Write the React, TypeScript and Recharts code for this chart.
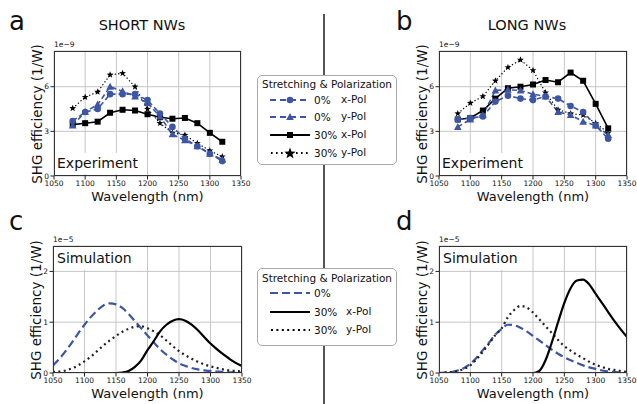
import React from 'react';
import { LineChart, Line, XAxis, YAxis, CartesianGrid } from 'recharts';

const BLUE = '#3c55a5';
const FONT = '"DejaVu Sans", Verdana, sans-serif';

// measured wavelengths (nm)
const expWl = [1080, 1100, 1120, 1140, 1160, 1180, 1200, 1220, 1240, 1260, 1280, 1300, 1320];
// SHORT NWs, units of 1e-9 1/W
const shortX0 = [3.7, 4.3, 4.5, 5.5, 5.5, 5.5, 5.1, 4.2, 3.3, 2.5, 2.0, 1.5, 1.0];
const shortY0 = [3.4, 4.3, 4.8, 6.0, 5.7, 5.35, 4.9, 4.0, 2.8, 2.4, 2.0, 1.5, 1.1];
const shortX30 = [3.45, 3.55, 3.65, 4.25, 4.45, 4.4, 4.15, 3.95, 3.85, 3.9, 3.55, 2.9, 2.3];
const shortY30 = [4.55, 5.3, 5.65, 6.8, 6.9, 6.0, 4.5, 3.55, 2.9, 2.75, 2.2, 1.7, 1.3];
// LONG NWs
const longX0 = [3.8, 3.9, 4.0, 5.0, 5.4, 5.2, 5.1, 5.35, 5.2, 4.7, 4.3, 3.4, 2.5];
const longY0 = [3.3, 3.8, 4.1, 5.75, 5.8, 5.75, 5.5, 5.35, 4.3, 4.1, 3.65, 3.4, 2.75];
const longX30 = [3.8, 3.9, 4.4, 5.2, 5.9, 6.0, 6.15, 6.45, 6.3, 6.95, 6.4, 4.85, 3.2];
const longY30 = [4.2, 4.9, 5.35, 6.4, 7.3, 7.8, 7.1, 5.6, 4.45, 4.2, 4.1, 3.55, 2.9];

// simulated wavelengths (nm)
const simWl = [1050, 1060, 1070, 1080, 1090, 1100, 1110, 1120, 1130, 1140, 1150, 1160, 1170, 1180, 1190, 1200,
  1210, 1220, 1230, 1240, 1250, 1260, 1270, 1280, 1290, 1300, 1310, 1320, 1330, 1340, 1350];
// SHORT NWs simulation, units of 1e-5 1/W
const simShort0 = [0.15, 0.28, 0.43, 0.6, 0.78, 0.95, 1.1, 1.23, 1.33, 1.37, 1.35, 1.28, 1.16, 1.02, 0.88, 0.74,
  0.6, 0.47, 0.36, 0.27, 0.19, 0.14, 0.1, 0.07, 0.05, 0.04, 0.03, 0.02, 0.015, 0.01, 0.01];
const simShortX30 = [0, 0, 0, 0, 0, 0, 0, 0, 0, 0, 0, 0.01, 0.04, 0.12, 0.25, 0.45,
  0.63, 0.82, 0.95, 1.03, 1.06, 1.03, 0.95, 0.84, 0.71, 0.58, 0.47, 0.37, 0.28, 0.2, 0.14];
const simShortY30 = [0.02, 0.03, 0.05, 0.09, 0.15, 0.23, 0.32, 0.43, 0.54, 0.64, 0.73, 0.81, 0.87, 0.91, 0.92, 0.88,
  0.82, 0.74, 0.64, 0.53, 0.43, 0.35, 0.28, 0.22, 0.17, 0.13, 0.1, 0.07, 0.05, 0.04, 0.03];
// LONG NWs simulation
const simLong0 = [0, 0.01, 0.02, 0.05, 0.1, 0.18, 0.3, 0.45, 0.6, 0.76, 0.87, 0.95, 0.94, 0.89, 0.82, 0.73,
  0.64, 0.55, 0.46, 0.38, 0.31, 0.25, 0.2, 0.15, 0.11, 0.08, 0.05, 0.03, 0.02, 0.01, 0.01];
const simLongX30 = [0, 0, 0, 0, 0, 0, 0, 0, 0, 0, 0, 0, 0, 0, 0, 0,
  0.04, 0.25, 0.6, 1.0, 1.38, 1.67, 1.82, 1.84, 1.74, 1.56, 1.38, 1.2, 1.02, 0.86, 0.71];
const simLongY30 = [0, 0.01, 0.02, 0.04, 0.08, 0.15, 0.27, 0.42, 0.58, 0.75, 0.88, 1.1, 1.24, 1.32, 1.29, 1.19,
  1.06, 0.92, 0.79, 0.65, 0.53, 0.44, 0.36, 0.29, 0.22, 0.16, 0.12, 0.08, 0.06, 0.04, 0.02];

const xTicks = [1050, 1100, 1150, 1200, 1250, 1300, 1350];
const expTicks = [0, 3, 6];
const simTicks = [0, 1, 2];

const toRows = (wl: number[], x0: number[], y0: number[], x30: number[], y30: number[]) =>
  wl.map((w, i) => ({ wl: w, x0: x0[i], y0: y0[i], x30: x30[i], y30: y30[i] }));

type Rect = { x: number; y: number; w: number; h: number };
const rA: Rect = { x: 54, y: 51, w: 187, h: 125 };
const rB: Rect = { x: 439, y: 51, w: 188, h: 125 };
const rC: Rect = { x: 53, y: 246, w: 189, h: 127 };
const rD: Rect = { x: 439, y: 246, w: 188, h: 127 };

const starPoints = (cx: number, cy: number, ro: number, ri: number) => {
  const pts: string[] = [];
  for (let k = 0; k < 10; k++) {
    const r = k % 2 ? ri : ro;
    const a = -Math.PI / 2 + (k * Math.PI) / 5;
    pts.push(`${cx + r * Math.cos(a)},${cy + r * Math.sin(a)}`);
  }
  return pts.join(' ');
};

const Circle = (p: any) => p.cx == null ? null : <circle key={p.index} cx={p.cx} cy={p.cy} r={3.3} fill={BLUE} />;
const Tri = (p: any) => p.cx == null ? null : (
  <polygon key={p.index} points={`${p.cx},${p.cy - 4} ${p.cx - 3.8},${p.cy + 3} ${p.cx + 3.8},${p.cy + 3}`} fill={BLUE} />
);
const Square = (p: any) => p.cx == null ? null : <rect key={p.index} x={p.cx - 3} y={p.cy - 3} width={6} height={6} fill="#000" />;
const Star = (p: any) => p.cx == null ? null : <polygon key={p.index} points={starPoints(p.cx, p.cy, 3.6, 1.5)} fill="#000" />;

function Panel({ rect, data, yMax, yTicks, exp }: { rect: Rect; data: any[]; yMax: number; yTicks: number[]; exp: boolean }) {
  const yw = 40, top = 10, xh = 30, right = 14;
  const tick = { fontSize: 7.5, fill: '#111', fontFamily: FONT };
  return (
    <>
      <div style={{ position: 'absolute', left: rect.x - yw, top: rect.y - top }}>
        <LineChart width={yw + rect.w + right} height={top + rect.h + xh} data={data}
          margin={{ top, right, left: 0, bottom: 0 }}>
          <CartesianGrid stroke="#c6c6c6" strokeWidth={1} />
          <XAxis dataKey="wl" type="number" domain={[1050, 1350]} ticks={xTicks} interval={0} height={xh}
            axisLine={false} tickLine={{ stroke: '#222' }} tickSize={3.5} tickMargin={1.5} tick={tick} allowDataOverflow />
          <YAxis type="number" domain={[0, yMax]} ticks={yTicks} interval={0} width={yw}
            axisLine={false} tickLine={{ stroke: '#222' }} tickSize={3.5} tickMargin={1.5} tick={tick} allowDataOverflow />
          {exp ? (
            <>
              <Line dataKey="x30" stroke="#000" strokeWidth={1.6} dot={Square} isAnimationActive={false} />
              <Line dataKey="y30" stroke="#000" strokeWidth={1.2} strokeDasharray="1.3 2.2" dot={Star} isAnimationActive={false} />
              <Line dataKey="y0" stroke={BLUE} strokeWidth={1.6} strokeDasharray="5 3" dot={Tri} isAnimationActive={false} />
              <Line dataKey="x0" stroke={BLUE} strokeWidth={1.6} strokeDasharray="5 3" dot={Circle} isAnimationActive={false} />
            </>
          ) : (
            <>
              <Line type="monotone" dataKey="y0" stroke={BLUE} strokeWidth={2.2} strokeDasharray="8 4" dot={false} isAnimationActive={false} />
              <Line type="monotone" dataKey="y30" stroke="#222" strokeWidth={2.2} strokeDasharray="2 3.4" dot={false} isAnimationActive={false} />
              <Line type="monotone" dataKey="x30" stroke="#000" strokeWidth={2.2} dot={false} isAnimationActive={false} />
            </>
          )}
        </LineChart>
      </div>
      <div style={{ position: 'absolute', left: rect.x, top: rect.y, width: rect.w, height: rect.h,
        border: '1px solid #333', boxSizing: 'border-box', pointerEvents: 'none' }} />
      <div style={{ position: 'absolute', left: rect.x + 1, top: exp ? rect.y + rect.h - 23 : rect.y + 1,
        background: '#fff', fontSize: 14, lineHeight: '21px', whiteSpace: 'nowrap',
        padding: exp ? '0 4px 0 2px' : '1px 4px 1px 3px' }}>
        {exp ? 'Experiment' : 'Simulation'}
      </div>
      <div style={{ position: 'absolute', left: rect.x, top: rect.y - 11, fontSize: 7.5, lineHeight: '9px', whiteSpace: 'nowrap' }}>
        {exp ? '1e\u22129' : '1e\u22125'}
      </div>
      <div style={{ position: 'absolute', left: rect.x - 17, top: rect.y + rect.h / 2, width: 170, textAlign: 'center',
        fontSize: 13.5, lineHeight: '16px', whiteSpace: 'nowrap', transform: 'translate(-50%, -50%) rotate(-90deg)' }}>
        SHG efficiency (1/W)
      </div>
      <div style={{ position: 'absolute', left: rect.x + rect.w / 2 - 80, top: rect.y + rect.h + 13, width: 160,
        textAlign: 'center', fontSize: 13, lineHeight: '16px', whiteSpace: 'nowrap' }}>
        Wavelength (nm)
      </div>
    </>
  );
}

function Sample({ kind }: { kind: string }) {
  return (
    <svg width={42} height={14} style={{ position: 'absolute', left: 269, top: -7 }}>
      {kind === 'x0' && <><line x1={1} y1={7} x2={41} y2={7} stroke={BLUE} strokeWidth={1.8} strokeDasharray="6 4" /><circle cx={21} cy={7} r={3.3} fill={BLUE} /></>}
      {kind === 'y0' && <><line x1={1} y1={7} x2={41} y2={7} stroke={BLUE} strokeWidth={1.8} strokeDasharray="6 4" /><polygon points="21,3 17.2,10 24.8,10" fill={BLUE} /></>}
      {kind === 'x30' && <><line x1={1} y1={7} x2={41} y2={7} stroke="#000" strokeWidth={1.8} /><rect x={18} y={4} width={6} height={6} fill="#000" /></>}
      {kind === 'y30' && <><line x1={2} y1={7} x2={41} y2={7} stroke="#000" strokeWidth={1.8} strokeDasharray="1.6 3.4" /><polygon points={starPoints(21, 7.5, 6, 2.5)} fill="#000" /></>}
      {kind === 's0' && <line x1={1} y1={7} x2={41} y2={7} stroke={BLUE} strokeWidth={2.2} strokeDasharray="8 4" />}
      {kind === 'sx30' && <line x1={1} y1={7} x2={41} y2={7} stroke="#000" strokeWidth={2.2} />}
      {kind === 'sy30' && <line x1={2} y1={7} x2={41} y2={7} stroke="#000" strokeWidth={2.2} strokeDasharray="2 3.4" />}
    </svg>
  );
}

const expLegend = [
  { kind: 'x0', pct: '0%', pol: 'x-Pol', y: 100 },
  { kind: 'y0', pct: '0%', pol: 'y-Pol', y: 117 },
  { kind: 'x30', pct: '30%', pol: 'x-Pol', y: 135 },
  { kind: 'y30', pct: '30%', pol: 'y-Pol', y: 153 },
];
const simLegend = [
  { kind: 's0', pct: '0%', pol: '', y: 293 },
  { kind: 'sx30', pct: '30%', pol: 'x-Pol', y: 312 },
  { kind: 'sy30', pct: '30%', pol: 'y-Pol', y: 330 },
];

function LegendBox({ top, height, titleY, rows, polX }: { top: number; height: number; titleY: number; rows: typeof expLegend; polX: number }) {
  return (
    <>
      <div style={{ position: 'absolute', left: 257, top, width: 140, height, border: '1px solid #aaa',
        borderRadius: 5, background: '#fff', boxSizing: 'border-box' }} />
      <div style={{ position: 'absolute', left: 257, top: titleY - 7, width: 140, textAlign: 'center', fontSize: 10.5,
        lineHeight: '14px', whiteSpace: 'nowrap' }}>
        Stretching &amp; Polarization
      </div>
      {rows.map((r) => (
        <div key={r.kind} style={{ position: 'absolute', left: 0, top: r.y, width: 0, height: 0 }}>
          <Sample kind={r.kind} />
          <div style={{ position: 'absolute', left: 314, top: -7, fontSize: 10.5, lineHeight: '14px', whiteSpace: 'nowrap' }}>{r.pct}</div>
          <div style={{ position: 'absolute', left: polX, top: -8, fontSize: 10.5, lineHeight: '14px', whiteSpace: 'nowrap' }}>{r.pol}</div>
        </div>
      ))}
    </>
  );
}

const label = (text: string, left: number, top: number) => (
  <div style={{ position: 'absolute', left, top, fontSize: 26, lineHeight: '30px' }}>{text}</div>
);

export default function App() {
  return (
    <div style={{ position: 'absolute', left: 0, top: 0, width: 637, height: 404, background: '#fff',
      fontFamily: FONT, color: '#111', overflow: 'hidden' }}>
      <div style={{ position: 'absolute', left: 323, top: 14, width: 2, height: 390, background: '#555' }} />
      <Panel rect={rA} data={toRows(expWl, shortX0, shortY0, shortX30, shortY30)} yMax={8.4} yTicks={expTicks} exp />
      <Panel rect={rB} data={toRows(expWl, longX0, longY0, longX30, longY30)} yMax={8.4} yTicks={expTicks} exp />
      <Panel rect={rC} data={toRows(simWl, simShort0, simShort0, simShortX30, simShortY30)} yMax={2.5} yTicks={simTicks} exp={false} />
      <Panel rect={rD} data={toRows(simWl, simLong0, simLong0, simLongX30, simLongY30)} yMax={2.5} yTicks={simTicks} exp={false} />
      <div style={{ position: 'absolute', left: 42, top: 16, width: 200, textAlign: 'center', fontSize: 14.5, lineHeight: '18px' }}>SHORT NWs</div>
      <div style={{ position: 'absolute', left: 427, top: 16, width: 200, textAlign: 'center', fontSize: 14.5, lineHeight: '18px' }}>LONG NWs</div>
      {label('a', 9, 6)}
      {label('b', 396, 6)}
      {label('c', 9, 206)}
      {label('d', 396, 206)}
      <LegendBox top={75} height={90} titleY={84} rows={expLegend} polX={341} />
      <LegendBox top={268} height={78} titleY={278} rows={simLegend} polX={346} />
    </div>
  );
}
